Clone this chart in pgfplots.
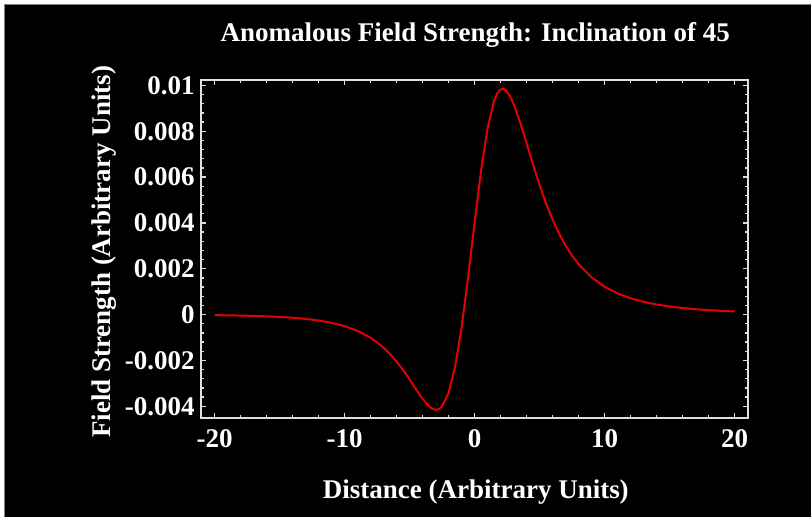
\documentclass[border=0pt]{standalone}
\usepackage{pgfplots}
\pgfplotsset{compat=1.18}
\usepackage{fontspec}
\setmainfont{Liberation Serif}
\definecolor{framegray}{gray}{0.87}
\definecolor{curvered}{RGB}{228,0,0}
\newcommand{\labelfont}{\fontsize{27bp}{32bp}\selectfont\bfseries}

\begin{document}
\begin{tikzpicture}[x=1bp,y=1bp]
% page background: thin white margin on top and left, black elsewhere
\fill[white] (0,0) rectangle (811,517);
\fill[black] (5,0) rectangle (811,512);
\draw[gray, line width=1bp] (5,0) -- (5,512) -- (811,512);
\begin{axis}[
  at={(201bp,99bp)}, anchor=south west,
  scale only axis, width=547bp, height=338bp,
  xmin=-21.05, xmax=21, ymin=-0.0045, ymax=0.01024,
  axis line style={framegray, line width=2bp},
  every tick/.style={framegray, line width=1.3bp},
  tick align=inside,
  major tick length=5bp, minor tick length=3bp,
  xtick={-20,-10,0,10,20},
  xticklabels={-20,-10,0,10,20},
  minor x tick num=4,
  ytick={-0.004,-0.002,0,0.002,0.004,0.006,0.008,0.01},
  yticklabels={-0.004,-0.002,0,0.002,0.004,0.006,0.008,0.01},
  minor y tick num=4,
  scaled y ticks=false,
  ticklabel style={font=\labelfont, text=white, inner sep=0pt},
  xticklabel style={yshift=-12bp},
  yticklabel style={xshift=-6bp},
  title={Anomalous Field Strength: Inclination of 45},
  title style={at={(axis description cs:0.502,1.0973)}, anchor=base,
               font=\labelfont, text=white, inner sep=0pt},
  xlabel={Distance (Arbitrary Units)},
  xlabel style={at={(axis description cs:0.503,-0.2396)}, anchor=base,
                font=\labelfont, text=white, inner sep=0pt},
  ylabel={Field Strength (Arbitrary Units)},
  ylabel style={at={(axis description cs:-0.1645,0.491)}, anchor=base,
                font=\labelfont, text=white, inner sep=0pt},
]
\addplot[curvered, line width=2bp, mark=none] coordinates {
(-20,-0.0000235) (-19,-0.0000314) (-18,-0.000042) (-17,-0.0000561)
(-16,-0.0000752) (-15,-0.0001012) (-14,-0.000137) (-13,-0.000187)
(-12,-0.000257) (-11,-0.000357) (-10,-0.000501) (-9,-0.000709)
(-8,-0.00101) (-7.5,-0.001208) (-7,-0.001444) (-6.5,-0.001722)
(-6,-0.002047) (-5.5,-0.002419) (-5,-0.002828) (-4.5,-0.003258)
(-4,-0.00367) (-3.5,-0.004) (-3.25,-0.004106) (-3,-0.004154)
(-2.75,-0.004127) (-2.5,-0.004007) (-2,-0.003422) (-1.5,-0.00229)
(-1,-0.00058) (-0.5,0.0016) (0,0.004) (0.5,0.006282) (1,0.008123)
(1.5,0.00932) (1.75,0.009656) (2,0.009826) (2.25,0.009844)
(2.5,0.009731) (2.75,0.009508) (3,0.009198) (3.5,0.008399)
(4,0.007479) (4.5,0.006543) (5,0.005657) (5.5,0.004854)
(6,0.004146) (6.5,0.003536) (7,0.003014) (7.5,0.002573)
(8,0.002201) (9,0.001625) (10,0.001216) (11,0.000924)
(12,0.000712) (13,0.000557) (14,0.000441) (15,0.000354)
(16,0.000287) (17,0.000236) (18,0.000195) (19,0.000163)
(20,0.000138)
};
\end{axis}
\end{tikzpicture}
\end{document}
